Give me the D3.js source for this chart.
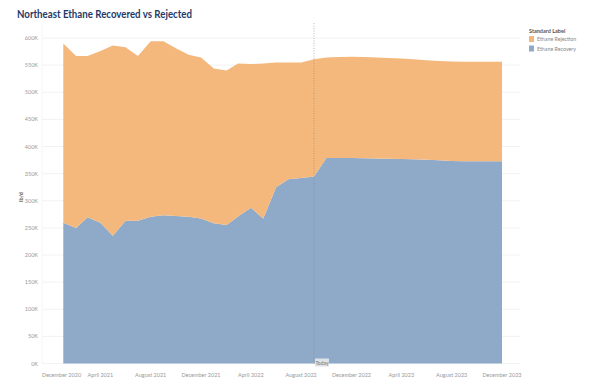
<!DOCTYPE html>
<html>
<head>
<meta charset="utf-8">
<script src="https://cdn.jsdelivr.net/npm/d3@7"></script>
<style>
  body { margin: 0; background: #fff; }
  text { font-family: Lato, "Open Sans", sans-serif; }
</style>
</head>
<body>
<div id="chart"></div>
<script>
// monthly data, Jan 2021 .. Dec 2023 (lb/d)
let months = d3.timeMonth.range(new Date(2021, 0, 1), new Date(2024, 0, 1))

let totalK = [590, 567, 567, 576, 586, 583, 567, 594, 594, 581, 569, 564,
  544, 540, 553, 552, 553, 555, 555, 555, 561, 564, 565, 565.5,
  565, 564, 563, 562, 561, 559, 557.5, 556.5, 556, 556, 556, 556]

let recoveryK = [259.5, 250, 269.5, 259.5, 235.5, 263, 263, 270.5, 273.5, 272, 270.5, 267.5,
  258.5, 255.5, 271, 287, 267.5, 325, 339.5, 342, 344.5, 379, 379, 379,
  378.5, 378, 377.5, 377, 376.5, 375.5, 374.5, 373.5, 373, 373, 373, 373]

let seriesNames = ['Ethane Rejection', 'Ethane Recovery']
let yTicks = d3.range(0, 600001, 50000)
let xTicks = d3.timeMonth.range(new Date(2020, 11, 1), new Date(2024, 0, 2), 4)
let todayDate = new Date(2022, 8, 1)

let colors = { 'Ethane Rejection': '#f4b87c', 'Ethane Recovery': '#8faac8' }

let width = 589
let height = 388
let plotLeft = 42
let plotRight = 520

let svg = d3
  .select('#chart')
  .append('svg')
  .attr('width', width)
  .attr('height', height)

let rows = months.map((m, i) => ({
  date: m,
  'Ethane Recovery': recoveryK[i] * 1000,
  'Ethane Rejection': (totalK[i] - recoveryK[i]) * 1000
}))

let x = d3.scaleTime()
  .domain([new Date(2020, 11, 1), new Date(2023, 11, 1)])
  .range([50.5, 502])

let y = d3.scaleLinear()
  .domain([0, 600000])
  .range([363.5, 38])

// title
svg.append('text')
  .attr('x', 17)
  .attr('y', 18)
  .attr('font-size', 11)
  .attr('font-weight', 'bold')
  .attr('fill', '#1f3a68')
  .attr('textLength', 175)
  .attr('lengthAdjust', 'spacingAndGlyphs')
  .text('Northeast Ethane Recovered vs Rejected')

// gridlines + y labels
svg.selectAll('.grid')
  .data(yTicks)
  .enter()
  .append('line')
  .attr('class', 'grid')
  .attr('x1', plotLeft)
  .attr('x2', plotRight)
  .attr('y1', d => y(d))
  .attr('y2', d => y(d))
  .attr('stroke', '#efefef')
  .attr('stroke-width', 0.8)

svg.selectAll('.ylab')
  .data(yTicks)
  .enter()
  .append('text')
  .attr('class', 'ylab')
  .attr('x', 38)
  .attr('y', d => y(d) + 2)
  .attr('text-anchor', 'end')
  .attr('font-size', 5.5)
  .attr('fill', '#999')
  .text(d => d / 1000 + 'K')

svg.append('line')
  .attr('x1', plotLeft)
  .attr('x2', plotLeft)
  .attr('y1', 25)
  .attr('y2', 363.5)
  .attr('stroke', '#f2f2f2')
  .attr('stroke-width', 0.8)

svg.append('text')
  .attr('transform', 'translate(23,197) rotate(-90)')
  .attr('text-anchor', 'middle')
  .attr('font-size', 5.5)
  .attr('font-weight', 'bold')
  .attr('fill', '#666')
  .text('lb/d')

// stacked areas
let stack = d3.stack().keys(['Ethane Recovery', 'Ethane Rejection'])
let layers = stack(rows)

let area = d3.area()
  .x(d => x(d.data.date))
  .y0(d => y(d[0]))
  .y1(d => y(d[1]))

svg.selectAll('.layer')
  .data(layers)
  .enter()
  .append('path')
  .attr('class', 'layer')
  .attr('d', area)
  .attr('fill', d => colors[d.key])

// today line
svg.append('line')
  .attr('x1', x(todayDate))
  .attr('x2', x(todayDate))
  .attr('y1', 23)
  .attr('y2', 363.5)
  .attr('stroke', '#888')
  .attr('stroke-width', 0.6)
  .attr('stroke-dasharray', '1,1.5')

svg.append('rect')
  .attr('x', x(todayDate) + 1)
  .attr('y', 358.5)
  .attr('width', 14)
  .attr('height', 8)
  .attr('fill', '#dde3ea')

svg.append('text')
  .attr('x', x(todayDate) + 8)
  .attr('y', 364.7)
  .attr('text-anchor', 'middle')
  .attr('font-size', 5)
  .attr('fill', '#777')
  .text('Today')

// x labels, clamped to plot left edge
let fmt = d3.timeFormat('%B %Y')
svg.selectAll('.xlab')
  .data(xTicks)
  .enter()
  .append('text')
  .attr('class', 'xlab')
  .attr('y', 377)
  .attr('font-size', 5.5)
  .attr('fill', '#999')
  .text(d => fmt(d))
  .each(function (d) {
    let w = this.getComputedTextLength()
    let left = Math.max(plotLeft, x(d) - w / 2)
    d3.select(this).attr('x', left)
  })

// legend
svg.append('text')
  .attr('x', 529)
  .attr('y', 33)
  .attr('font-size', 5.5)
  .attr('font-weight', 'bold')
  .attr('fill', '#555')
  .text('Standard Label')

seriesNames.forEach((name, i) => {
  svg.append('rect')
    .attr('x', 529)
    .attr('y', 36 + i * 9.5)
    .attr('width', 5)
    .attr('height', 6)
    .attr('fill', colors[name])
  svg.append('text')
    .attr('x', 537)
    .attr('y', 41 + i * 9.5)
    .attr('font-size', 5.3)
    .attr('fill', '#888')
    .text(name)
})
</script>
</body>
</html>
